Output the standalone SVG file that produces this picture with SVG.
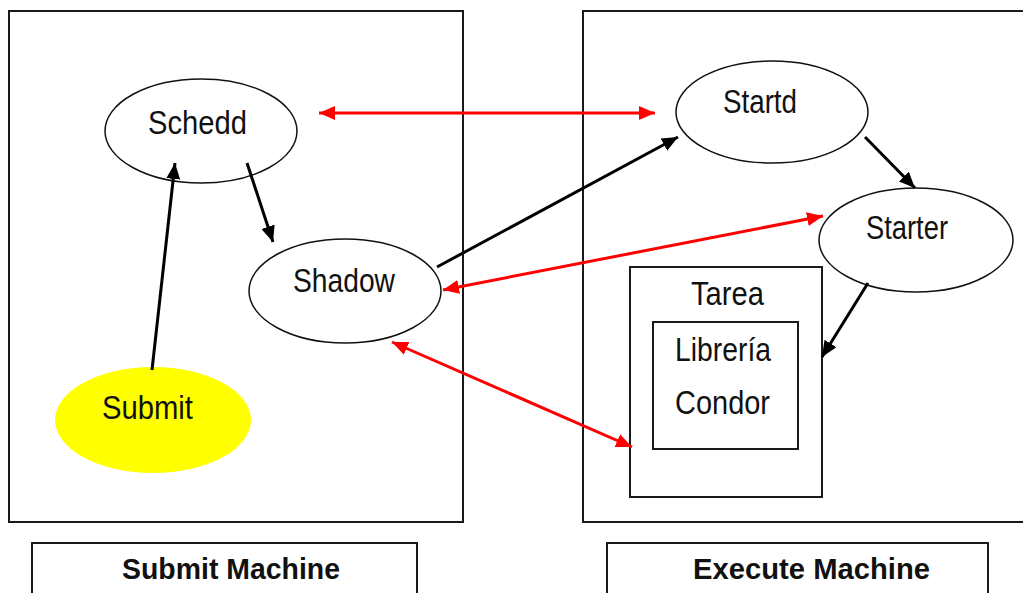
<svg xmlns="http://www.w3.org/2000/svg" width="1023" height="593" viewBox="0 0 1023 593">
  <style>
    .frame { fill: #ffffff; stroke: #1a1a1a; stroke-width: 2; }
    .proc { fill: #ffffff; stroke: #111111; stroke-width: 1.5; }
    .lbl { font-family: "Liberation Sans", Arial, sans-serif; font-size: 33px; fill: #111111; }
    .title { font-family: "Liberation Sans", Arial, sans-serif; font-size: 30px; font-weight: bold; fill: #111111; }
    .blk { stroke: #000000; stroke-width: 3; fill: none; }
    .red { stroke: #ff0000; stroke-width: 3; fill: none; }
  </style>
  <defs>
    <marker id="headBlack" markerUnits="userSpaceOnUse" markerWidth="18" markerHeight="14" refX="16" refY="7" orient="auto-start-reverse">
      <path d="M0,0 L16,7 L0,14 z" fill="#000000"/>
    </marker>
    <marker id="headRed" markerUnits="userSpaceOnUse" markerWidth="18" markerHeight="14" refX="16" refY="7" orient="auto-start-reverse">
      <path d="M0,0 L16,7 L0,14 z" fill="#ff0000"/>
    </marker>
  </defs>

  <rect width="1023" height="593" fill="#ffffff"/>

  <!-- machine frames -->
  <g id="submit-machine">
    <rect class="frame" x="9" y="11" width="454" height="511"/>
    <rect class="frame" x="32" y="543" width="385" height="60"/>
    <text class="title" x="122" y="579" textLength="218" lengthAdjust="spacingAndGlyphs">Submit Machine</text>
  </g>
  <g id="execute-machine">
    <rect class="frame" x="583" y="11" width="460" height="511"/>
    <rect class="frame" x="607" y="543" width="381" height="60"/>
    <text class="title" x="693" y="579" textLength="237" lengthAdjust="spacingAndGlyphs">Execute Machine</text>
  </g>

  <!-- processes -->
  <g id="schedd">
    <ellipse class="proc" cx="201" cy="131" rx="96" ry="52"/>
    <text class="lbl" x="148" y="134" textLength="99" lengthAdjust="spacingAndGlyphs">Schedd</text>
  </g>
  <g id="shadow">
    <ellipse class="proc" cx="345" cy="291" rx="96" ry="52"/>
    <text class="lbl" x="293" y="292" textLength="102" lengthAdjust="spacingAndGlyphs">Shadow</text>
  </g>
  <g id="submit">
    <ellipse cx="153" cy="420" rx="98" ry="53" fill="#ffff00"/>
    <text class="lbl" x="102" y="419" textLength="91" lengthAdjust="spacingAndGlyphs">Submit</text>
  </g>
  <g id="startd">
    <ellipse class="proc" cx="772" cy="112" rx="96" ry="51"/>
    <text class="lbl" x="723" y="113" textLength="74" lengthAdjust="spacingAndGlyphs">Startd</text>
  </g>
  <g id="starter">
    <ellipse class="proc" cx="916" cy="240" rx="97" ry="52"/>
    <text class="lbl" x="866" y="239" textLength="82" lengthAdjust="spacingAndGlyphs">Starter</text>
  </g>
  <g id="tarea">
    <rect class="frame" x="630" y="267" width="192" height="230"/>
    <text class="lbl" x="691" y="305" textLength="73" lengthAdjust="spacingAndGlyphs">Tarea</text>
  </g>
  <g id="libreria-condor">
    <rect class="frame" x="653" y="322" width="145" height="127"/>
    <text class="lbl" x="675" y="361" textLength="96" lengthAdjust="spacingAndGlyphs">Librería</text>
    <text class="lbl" x="675" y="414" textLength="95" lengthAdjust="spacingAndGlyphs">Condor</text>
  </g>

  <!-- connectors -->
  <g id="connectors">
    <line class="red" x1="319" y1="113" x2="655" y2="113" marker-start="url(#headRed)" marker-end="url(#headRed)"/>
    <line class="red" stroke-width="2" x1="443" y1="290" x2="823" y2="216" marker-start="url(#headRed)" marker-end="url(#headRed)"/>
    <line class="red" x1="392" y1="342" x2="632" y2="447" marker-start="url(#headRed)" marker-end="url(#headRed)"/>
    <line class="blk" x1="152" y1="370" x2="175" y2="163" marker-end="url(#headBlack)"/>
    <line class="blk" x1="247" y1="163" x2="273" y2="242" marker-end="url(#headBlack)"/>
    <line class="blk" x1="437" y1="267" x2="678" y2="137" marker-end="url(#headBlack)"/>
    <line class="blk" stroke-width="1.5" x1="865" y1="137" x2="915" y2="188" marker-end="url(#headBlack)"/>
    <line class="blk" stroke-width="2.5" x1="868" y1="283" x2="822" y2="357" marker-end="url(#headBlack)"/>
  </g>
</svg>
